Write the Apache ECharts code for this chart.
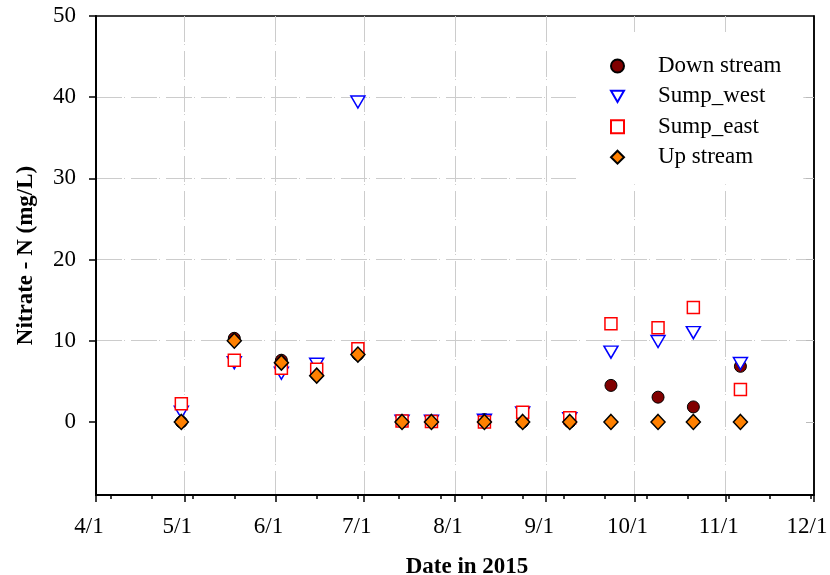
<!DOCTYPE html>
<html><head><meta charset="utf-8">
<script src="https://cdn.jsdelivr.net/npm/echarts@6/dist/echarts.min.js"></script>
<style>html,body{margin:0;padding:0;background:#fff}#c{width:830px;height:575px}</style>
</head><body><div id="c"></div>
<script>
const sampleDates = ['2015-04-30','2015-05-18','2015-06-03','2015-06-15','2015-06-29','2015-07-14','2015-07-24','2015-08-11','2015-08-24','2015-09-09','2015-09-23','2015-10-09','2015-10-21','2015-11-06'];
const downStream = [0, 10.3, 7.6, 5.8, 8.3, 0, 0, 0.3, 0, 0, 4.5, 3.05, 1.85, 6.85];
const sumpWest   = [1.2, 7.3, 6.0, 7.1, 39.4, 0.1, 0.1, 0.2, 1.1, 0.4, 8.6, 9.9, 11.0, 7.2];
const sumpEast   = [2.25, 7.6, 6.6, 6.5, 9.0, 0.1, 0.05, 0, 1.2, 0.5, 12.1, 11.6, 14.1, 4.0];
const upStream   = [0, 10.0, 7.3, 5.7, 8.3, 0, 0, 0, 0, 0, 0, 0, 0, 0];
const monthTicks = ['2015-04-01','2015-05-01','2015-06-01','2015-07-01','2015-08-01','2015-09-01','2015-10-01','2015-11-01','2015-12-01'];
const minorTicks = ['2015-04-06','2015-04-20','2015-05-04','2015-05-18','2015-06-01','2015-06-15','2015-06-29','2015-07-13','2015-07-27','2015-08-10','2015-08-24','2015-09-07','2015-09-21','2015-10-05','2015-10-19','2015-11-02','2015-11-16','2015-11-30'];
const yTicks = [0, 10, 20, 30, 40, 50];
const yInnerTicks = [0, 10, 20, 30, 40];
const seriesNames = ['Down stream', 'Sump_west', 'Sump_east', 'Up stream'];
const xTitle = 'Date in 2015';
const yTitle = 'Nitrate - N (mg/L)';

const FONT = 'Liberation Serif';
const ts = s => { const p = s.split('-').map(Number); return Date.UTC(p[0], p[1] - 1, p[2]); };
const pairs = vals => sampleDates.map((d, i) => [ts(d), vals[i]]);
const fmtDate = v => { const d = new Date(v); return (d.getUTCMonth() + 1) + '/' + d.getUTCDate(); };
const gridDash = [26, 2, 1, 6];
const xMin = ts(monthTicks[0]), xMax = ts(monthTicks[monthTicks.length - 1]);

const chart = echarts.init(document.getElementById('c'), null, {renderer: 'canvas'});
chart.setOption({
  animation: false,
  backgroundColor: '#fff',
  grid: {left: 96, right: 16, top: 16, bottom: 80, containLabel: false, outerBoundsMode: 'none',
         show: true, borderColor: '#000', borderWidth: 1.5, backgroundColor: 'transparent'},
  legend: {
    orient: 'vertical', left: 576, top: 32, padding: [22, 22, 15, 34],
    itemWidth: 13, itemHeight: 13, itemGap: 6.4, backgroundColor: '#fff',
    textStyle: {fontFamily: FONT, fontSize: 23, color: '#000', lineHeight: 24, padding: [0, 0, 0, 29]},
    data: seriesNames
  },
  xAxis: [{
    type: 'value', min: xMin, max: xMax, position: 'bottom',
    axisLine: {show: true, onZero: false, lineStyle: {color: '#000', width: 2}},
    axisTick: {show: true, customValues: monthTicks.map(ts), length: 7, lineStyle: {color: '#000', width: 1.5}},
    axisLabel: {customValues: monthTicks.map(ts), formatter: fmtDate, fontFamily: FONT, fontSize: 23, color: '#000', margin: 20, padding: [0, 14, 0, 0]},
    splitLine: {show: true, showMinLine: false, showMaxLine: false, lineStyle: {color: '#cccccc', width: 1, type: gridDash}},
    name: xTitle, nameLocation: 'middle', nameGap: 61,
    nameTextStyle: {fontFamily: FONT, fontSize: 23, fontWeight: 'bold', color: '#000', padding: [0, 0, 0, 24]}
  }, {
    type: 'value', min: xMin, max: xMax, position: 'bottom',
    axisLine: {show: false, onZero: false},
    axisTick: {show: true, customValues: minorTicks.map(ts), length: 4, lineStyle: {color: '#000', width: 1.5}},
    axisLabel: {show: false},
    splitLine: {show: false}
  }],
  yAxis: [{
    type: 'value', min: -9, max: 50, position: 'left',
    axisLine: {show: true, onZero: false, lineStyle: {color: '#000', width: 2}},
    axisTick: {show: true, customValues: yTicks, length: 7, lineStyle: {color: '#000', width: 1.5}},
    axisLabel: {customValues: yTicks, fontFamily: FONT, fontSize: 23, color: '#000', margin: 20},
    splitLine: {show: true, showMinLine: false, showMaxLine: false, lineStyle: {color: '#cccccc', width: 1, type: gridDash}},
    name: yTitle, nameLocation: 'middle', nameGap: 58,
    nameTextStyle: {fontFamily: FONT, fontSize: 23, fontWeight: 'bold', color: '#000'}
  }, {
    type: 'value', min: -9, max: 50, position: 'right',
    axisLine: {show: true, onZero: false, lineStyle: {color: '#000', width: 1.5}},
    axisTick: {show: true, inside: true, customValues: yInnerTicks, length: 8, lineStyle: {color: '#bbbbbb', width: 1}},
    axisLabel: {show: false},
    splitLine: {show: false}
  }],
  series: [
    {name: seriesNames[0], type: 'scatter', data: pairs(downStream), symbol: 'circle', symbolSize: 12,
     itemStyle: {color: '#800000', borderColor: '#000', borderWidth: 1, opacity: 1}},
    {name: seriesNames[1], type: 'scatter', data: pairs(sumpWest), symbol: 'path://M0,0L12,0L6,10.4Z', symbolSize: [14, 12],
     itemStyle: {color: '#fff', borderColor: '#0000ff', borderWidth: 1.5, opacity: 1}},
    {name: seriesNames[2], type: 'scatter', data: pairs(sumpEast), symbol: 'rect', symbolSize: 12,
     itemStyle: {color: '#fff', borderColor: '#ff0000', borderWidth: 1.5, opacity: 1}},
    {name: seriesNames[3], type: 'scatter', data: pairs(upStream), symbol: 'diamond', symbolSize: [14, 15],
     itemStyle: {color: '#ff8000', borderColor: '#000', borderWidth: 1.5, opacity: 1}}
  ]
});
</script>
</body></html>
